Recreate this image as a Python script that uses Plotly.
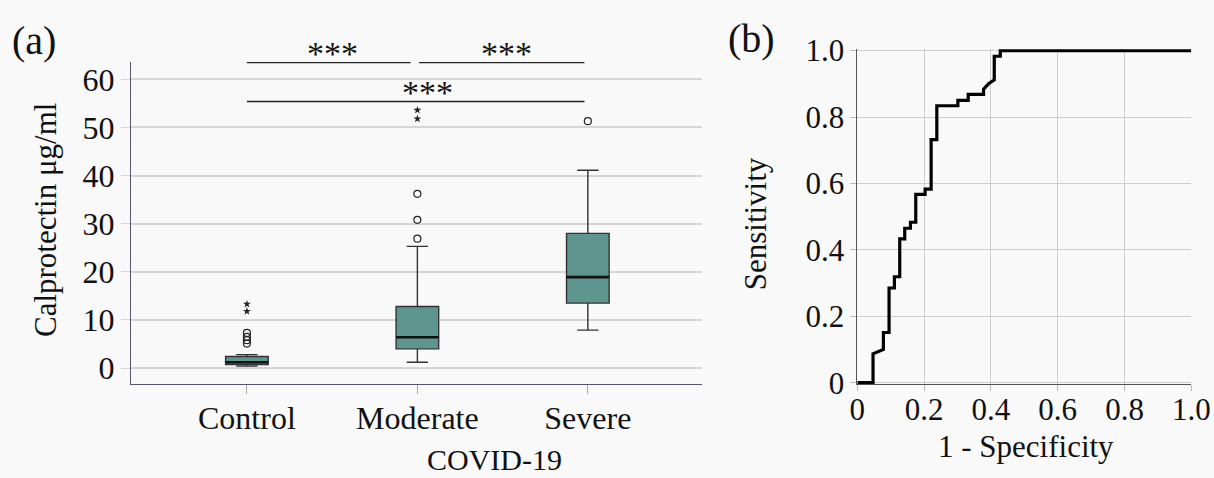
import plotly.graph_objects as go

# ---------------- data: panel (a) box plot ----------------
groups = ["Control", "Moderate", "Severe"]
q1 = [0.75, 4.0, 13.5]
median = [1.2, 6.4, 18.9]
q3 = [2.4, 12.8, 28.0]
lower_whisker = [0.4, 1.2, 7.9]
upper_whisker = [2.8, 25.3, 41.1]

outlier_group = [0, 0, 0, 0, 1, 1, 1, 2]
outlier_vals = [7.3, 6.5, 5.8, 5.1, 36.2, 30.8, 26.9, 51.3]
extreme_group = [0, 0, 1, 1]
extreme_vals = [13.3, 11.8, 53.6, 51.8]

y_ticks = [0, 10, 20, 30, 40, 50, 60]

# ---------------- data: panel (b) ROC curve ----------------
fpr = [0, 0.047, 0.047, 0.078, 0.078, 0.095, 0.095, 0.111, 0.111, 0.127,
       0.127, 0.142, 0.142, 0.159, 0.159, 0.175, 0.175, 0.203, 0.203, 0.221,
       0.221, 0.238, 0.238, 0.301, 0.301, 0.332, 0.332, 0.378, 0.378, 0.393,
       0.41, 0.41, 0.428, 0.428, 1.0]
tpr = [0, 0, 0.087, 0.10, 0.151, 0.151, 0.285, 0.285, 0.319, 0.319,
       0.433, 0.433, 0.465, 0.465, 0.483, 0.483, 0.567, 0.567, 0.583, 0.583,
       0.732, 0.732, 0.834, 0.834, 0.850, 0.850, 0.868, 0.868, 0.884, 0.900,
       0.912, 0.983, 0.983, 1.0, 1.0]
roc_ticks = [0, 0.2, 0.4, 0.6, 0.8, 1.0]
roc_ticktext = ["0", "0.2", "0.4", "0.6", "0.8", "1.0"]

FONT = "Liberation Serif"
BG = "#F9F9F9"
TEAL = "#5E958F"
BOX_W = 0.25

fig = go.Figure()

xs = list(range(len(groups)))
fig.add_trace(go.Box(
    x=xs, q1=q1, median=median, q3=q3,
    lowerfence=lower_whisker, upperfence=upper_whisker,
    width=BOX_W, whiskerwidth=0.5, boxpoints=False,
    fillcolor=TEAL, line=dict(color="#333333", width=1.4),
    xaxis="x", yaxis="y", showlegend=False, hoverinfo="skip",
))

# thicker median lines
for i, m in enumerate(median):
    fig.add_trace(go.Scatter(
        x=[i - BOX_W / 2, i + BOX_W / 2], y=[m, m], mode="lines",
        line=dict(color="#111111", width=2.6),
        xaxis="x", yaxis="y", showlegend=False, hoverinfo="skip",
    ))

fig.add_trace(go.Scatter(
    x=outlier_group, y=outlier_vals, mode="markers",
    marker=dict(symbol="circle-open", size=7, color="#222222", line=dict(width=1.2)),
    xaxis="x", yaxis="y", showlegend=False, hoverinfo="skip",
))
fig.add_trace(go.Scatter(
    x=extreme_group, y=extreme_vals, mode="markers",
    marker=dict(symbol="star", size=6, color="#222222"),
    xaxis="x", yaxis="y", showlegend=False, hoverinfo="skip",
))

fig.add_trace(go.Scatter(
    x=fpr, y=tpr, mode="lines",
    line=dict(color="#000000", width=3.2, shape="linear"),
    xaxis="x2", yaxis="y2", showlegend=False, hoverinfo="skip",
))

# significance bars
sig_bars = [(0, 0.96, 63.5), (1.01, 1.98, 63.5), (0, 1.98, 55.4)]
shapes = []
for x0, x1, yv in sig_bars:
    shapes.append(dict(type="line", xref="x", yref="y", x0=x0, x1=x1, y0=yv, y1=yv,
                       line=dict(color="#222222", width=1.6)))

annotations = []
for xc, yv in [(0.5, 63.5), (1.52, 63.5), (1.06, 55.4)]:
    annotations.append(dict(text="***", x=xc, y=yv, xref="x", yref="y",
                            xanchor="center", yanchor="bottom", showarrow=False,
                            yshift=-12, font=dict(family=FONT, size=34, color="#111")))

annotations += [
    dict(text="(a)", x=0.028, y=0.915, xref="paper", yref="paper", showarrow=False,
         xanchor="center", yanchor="middle", font=dict(family=FONT, size=40, color="#111")),
    dict(text="(b)", x=0.619, y=0.92, xref="paper", yref="paper", showarrow=False,
         xanchor="center", yanchor="middle", font=dict(family=FONT, size=40, color="#111")),
    dict(text="Calprotectin μg/ml", x=0.038, y=0.54, xref="paper", yref="paper",
         showarrow=False, textangle=-90, xanchor="center", yanchor="middle",
         font=dict(family=FONT, size=31, color="#111")),
    dict(text="COVID-19", x=0.407, y=0.038, xref="paper", yref="paper", showarrow=False,
         xanchor="center", yanchor="middle", font=dict(family=FONT, size=30, color="#111")),
    dict(text="Sensitivity", x=0.622, y=0.531, xref="paper", yref="paper",
         showarrow=False, textangle=-90, xanchor="center", yanchor="middle",
         font=dict(family=FONT, size=31, color="#111")),
    dict(text="1 - Specificity", x=0.8455, y=0.066, xref="paper", yref="paper",
         showarrow=False, xanchor="center", yanchor="middle",
         font=dict(family=FONT, size=31, color="#111")),
]

fig.update_layout(
    width=1214, height=478,
    margin=dict(l=0, r=0, t=0, b=0, pad=0),
    paper_bgcolor=BG, plot_bgcolor=BG,
    font=dict(family=FONT, color="#111111"),
    shapes=shapes, annotations=annotations,
    xaxis=dict(domain=[0.1079, 0.5783], range=[-0.68, 2.67], automargin=False,
               tickvals=xs, ticktext=groups, ticks="outside", ticklen=9,
               tickcolor="#aaaaaa", showline=True, linecolor="#5a5070", linewidth=1,
               showgrid=False, zeroline=False, tickfont=dict(family=FONT, size=32),
               ticklabelstandoff=-3, anchor="y"),
    yaxis=dict(domain=[0.1967, 0.8703], range=[-3.3, 63.6], automargin=False,
               tickvals=y_ticks, ticks="outside", ticklen=9, tickcolor="#d4d4d4",
               showline=True, linecolor="#5a5070", linewidth=1,
               showgrid=True, gridcolor="#d6d6d6", gridwidth=1.5, zeroline=False,
               tickfont=dict(family=FONT, size=32), anchor="x"),
    xaxis2=dict(domain=[0.7062, 0.9813], range=[0, 1], automargin=False,
                tickvals=roc_ticks, ticktext=roc_ticktext, ticks="outside", ticklen=6,
                tickcolor="#bbbbbb", showline=True, linecolor="#555555", linewidth=1,
                showgrid=True, gridcolor="#cfcfcf", gridwidth=1, zeroline=False,
                tickfont=dict(family=FONT, size=31), ticklabelstandoff=-8, anchor="y2"),
    yaxis2=dict(domain=[0.1967, 0.8969], range=[-0.004, 1.004], automargin=False,
                tickvals=roc_ticks, ticktext=roc_ticktext, ticks="outside", ticklen=6,
                tickcolor="#bbbbbb", showline=True, linecolor="#555555", linewidth=1,
                showgrid=True, gridcolor="#cfcfcf", gridwidth=1, zeroline=False,
                tickfont=dict(family=FONT, size=31), anchor="x2"),
)

fig.write_html(
    "out.html",
    config={"displayModeBar": False},
    post_script="document.body.style.margin='0';document.body.style.background='#F9F9F9';",
)
